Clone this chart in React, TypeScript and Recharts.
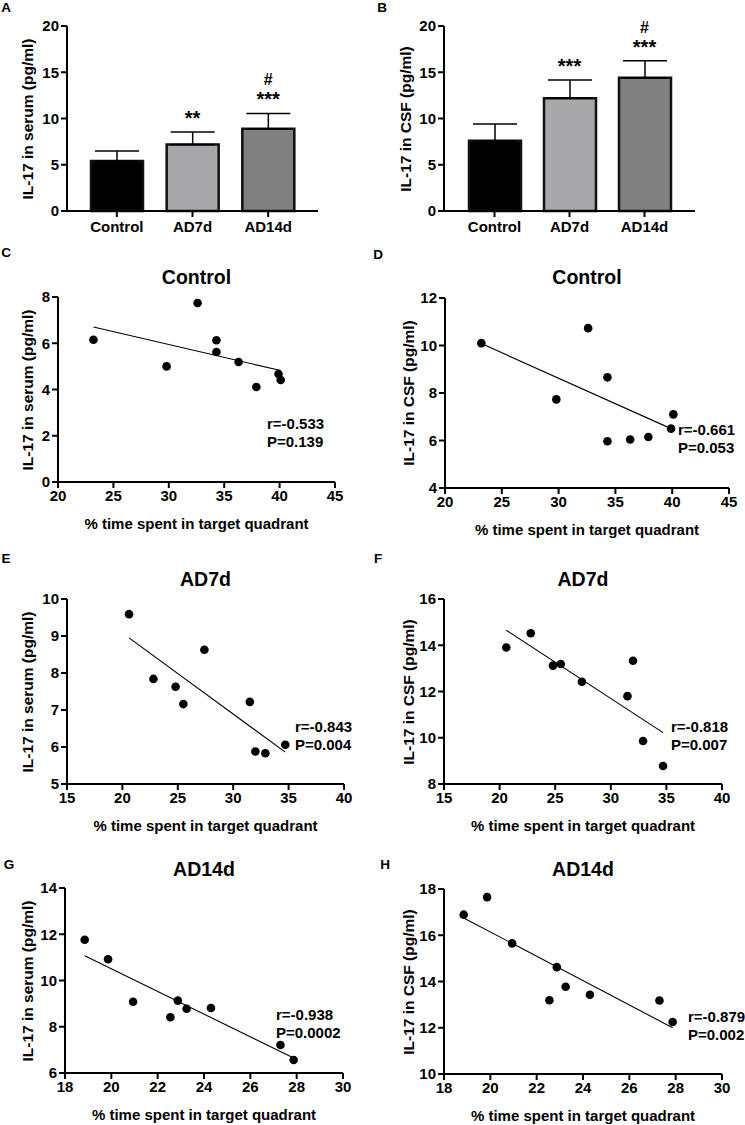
import React from "react";
import {
  Bar,
  BarChart,
  Cell,
  ErrorBar,
  ReferenceDot,
  Scatter,
  ScatterChart,
  XAxis,
  YAxis,
} from "recharts";

// bar panels (A, B)
const groups = ["Control", "AD7d", "AD14d"];
const barFills = ["#000000", "#a7a7a9", "#808080"];
const serumMean = [5.4, 7.2, 8.9];
const serumSd = [1.1, 1.35, 1.65];
const serumSig = ["", "**", "***"];
const serumHash = ["", "", "#"];
const csfMean = [7.6, 12.2, 14.4];
const csfSd = [1.8, 1.95, 1.85];
const csfSig = ["", "***", "***"];
const csfHash = ["", "", "#"];
const barTicks = [0, 5, 10, 15, 20];

// scatter panels: % time in target quadrant vs IL-17
const ctrlTime = [23.2, 29.8, 32.6, 34.3, 34.3, 36.3, 37.9, 39.9, 40.1];
const ctrlSerum = [6.15, 5.0, 7.74, 6.13, 5.62, 5.19, 4.11, 4.67, 4.41];
const ctrlCsf = [10.1, 7.73, 10.73, 8.66, 5.97, 6.04, 6.15, 6.5, 7.1];
const ad7Time = [20.6, 22.8, 24.8, 25.5, 27.4, 31.5, 32.0, 32.9, 34.7];
const ad7Serum = [9.59, 7.84, 7.63, 7.16, 8.63, 7.22, 5.88, 5.83, 6.06];
const ad7Csf = [13.9, 14.52, 13.12, 13.19, 12.42, 11.8, 13.33, 9.86, 8.78];
const ad14Time = [18.85, 19.86, 20.94, 22.55, 22.87, 23.25, 24.3, 27.3, 27.87];
const ad14Serum = [11.76, 10.92, 9.08, 8.41, 9.13, 8.78, 8.81, 7.21, 6.56];
const ad14Csf = [16.89, 17.65, 15.65, 13.19, 14.62, 13.77, 13.43, 13.18, 12.25];

// fitted regression line endpoints [x0, x1], [y0, y1]
const fitCtrlSerum = { x: [23.2, 40.1], y: [6.7, 4.82] };
const fitCtrlCsf = { x: [23.2, 39.9], y: [10.08, 6.5] };
const fitAd7Serum = { x: [20.6, 34.7], y: [8.95, 5.86] };
const fitAd7Csf = { x: [20.6, 34.7], y: [14.65, 10.22] };
const fitAd14Serum = { x: [18.85, 27.87], y: [11.07, 6.65] };
const fitAd14Csf = { x: [18.85, 27.87], y: [16.75, 12.0] };

const font = "'Liberation Sans', Arial, Helvetica, sans-serif";
const tickStyle = { fontSize: 15, fontWeight: 700, fill: "#000", fontFamily: font };
const axisLine = { stroke: "#000", strokeWidth: 2 };
const tickLine = { stroke: "#000", strokeWidth: 2 };

const Txt = ({ x, y, size, children, align = "center", rotate = false }: any) => (
  <div
    style={{
      position: "absolute",
      left: x,
      top: y,
      fontSize: size,
      fontWeight: 700,
      lineHeight: 1,
      whiteSpace: "nowrap",
      transform: `translate(${align === "center" ? "-50%" : "0"}, -50%)${rotate ? " rotate(-90deg)" : ""}`,
      transformOrigin: align === "center" ? "center" : "left center",
    }}
  >
    {children}
  </div>
);

const sigLabel = (stars: string, hash: string) => (props: any) => {
  const vb = props.viewBox;
  const cx = vb.x + vb.width / 2;
  const cy = vb.y;
  return (
    <g fontFamily={font} fontWeight={700} fill="#000" textAnchor="middle">
      <text x={cx} y={cy - 7} fontSize={20}>
        {stars}
      </text>
      {hash && (
        <text x={cx} y={cy - 28} fontSize={16}>
          {hash}
        </text>
      )}
    </g>
  );
};

const BarPanel = ({ box, plot, means, sds, sig, hash, yLabel, labelX, letter, letterPos, pad }: any) => {
  const data = groups.map((g, i) => ({ group: g, mean: means[i], err: [0, sds[i]] }));
  return (
    <div style={{ position: "absolute", left: box.left, top: box.top, width: box.w, height: box.h }}>
      <BarChart
        width={box.w}
        height={box.h}
        data={data}
        margin={{ top: plot.t - box.top, right: box.left + box.w - plot.r, left: 0, bottom: 0 }}
      >
        <XAxis
          dataKey="group"
          height={box.top + box.h - plot.b}
          padding={{ left: pad, right: pad }}
          tick={tickStyle}
          axisLine={axisLine}
          tickLine={tickLine}
          tickSize={6}
          tickMargin={4}
        />
        <YAxis
          width={plot.l - box.left}
          domain={[0, 20]}
          ticks={barTicks}
          tick={tickStyle}
          axisLine={axisLine}
          tickLine={tickLine}
          tickSize={6}
          tickMargin={2}
        />
        <Bar dataKey="mean" barSize={52} stroke="#111" strokeWidth={2.5} isAnimationActive={false}>
          {data.map((d, i) => (
            <Cell key={d.group} fill={barFills[i]} />
          ))}
          <ErrorBar dataKey="err" width={22} stroke="#000" strokeWidth={1.5} direction="y" />
        </Bar>
        {data.map((d, i) =>
          sig[i] ? (
            <ReferenceDot
              key={d.group}
              x={d.group}
              y={means[i] + sds[i]}
              r={0}
              stroke="none"
              fill="none"
              label={sigLabel(sig[i], hash[i])}
            />
          ) : null
        )}
      </BarChart>
      <Txt x={labelX - box.left} y={(plot.t + plot.b) / 2 - box.top} size={15.5} rotate>
        {yLabel}
      </Txt>
      <Txt x={letterPos[0] - box.left} y={letterPos[1] - box.top} size={13.5}>
        {letter}
      </Txt>
    </div>
  );
};

const dot = (p: any) => <circle cx={p.cx} cy={p.cy} r={4.3} fill="#000" />;
const noDot = () => <g />;

const ScatterPanel = ({
  box, plot, xs, ys, fit, xDomain, xTicks, yDomain, yTicks, title, titleY, yLabel, labelX,
  stats, statsPos, letter, letterPos,
}: any) => {
  const pts = xs.map((x: number, i: number) => ({ x, y: ys[i] }));
  const line = fit.x.map((x: number, i: number) => ({ x, y: fit.y[i] }));
  const cx = (plot.l + plot.r) / 2 - box.left;
  return (
    <div style={{ position: "absolute", left: box.left, top: box.top, width: box.w, height: box.h }}>
      <ScatterChart
        width={box.w}
        height={box.h}
        margin={{ top: plot.t - box.top, right: box.left + box.w - plot.r, left: 0, bottom: 0 }}
      >
        <XAxis
          type="number"
          dataKey="x"
          domain={xDomain}
          ticks={xTicks}
          height={box.top + box.h - plot.b}
          tick={tickStyle}
          axisLine={axisLine}
          tickLine={tickLine}
          tickSize={6}
          tickMargin={2}
        />
        <YAxis
          type="number"
          dataKey="y"
          domain={yDomain}
          ticks={yTicks}
          width={plot.l - box.left}
          tick={tickStyle}
          axisLine={axisLine}
          tickLine={tickLine}
          tickSize={6}
          tickMargin={2}
        />
        <Scatter data={line} line={{ stroke: "#000", strokeWidth: 1.1 }} shape={noDot} isAnimationActive={false} />
        <Scatter data={pts} shape={dot} isAnimationActive={false} />
      </ScatterChart>
      <Txt x={cx} y={titleY - box.top} size={19.5}>
        {title}
      </Txt>
      <Txt x={labelX - box.left} y={(plot.t + plot.b) / 2 - box.top} size={15.5} rotate>
        {yLabel}
      </Txt>
      <Txt x={cx} y={plot.b + 41 - box.top} size={15}>
        % time spent in target quadrant
      </Txt>
      <Txt x={statsPos[0] - box.left} y={statsPos[1] - box.top} size={15} align="left">
        {stats[0]}
      </Txt>
      <Txt x={statsPos[0] - box.left} y={statsPos[1] + 18 - box.top} size={15} align="left">
        {stats[1]}
      </Txt>
      <Txt x={letterPos[0] - box.left} y={letterPos[1] - box.top} size={13.5}>
        {letter}
      </Txt>
    </div>
  );
};

export default function App() {
  const serumLabel = "IL-17 in serum (pg/ml)";
  const csfLabel = "IL-17 in CSF (pg/ml)";
  const t20 = [20, 25, 30, 35, 40, 45];
  const t15 = [15, 20, 25, 30, 35, 40];
  const t18 = [18, 20, 22, 24, 26, 28, 30];
  return (
    <div
      style={{
        position: "absolute",
        left: 0,
        top: 0,
        width: 745,
        height: 1125,
        background: "#fff",
        fontFamily: font,
        color: "#000",
      }}
    >
      <BarPanel
        box={{ left: 0, top: 0, w: 372, h: 240 }}
        plot={{ l: 67, t: 26, r: 318, b: 211 }}
        pad={12}
        means={serumMean}
        sds={serumSd}
        sig={serumSig}
        hash={serumHash}
        yLabel={serumLabel}
        labelX={28}
        letter="A"
        letterPos={[6, 8]}
      />
      <BarPanel
        box={{ left: 372, top: 0, w: 373, h: 240 }}
        plot={{ l: 444, t: 26, r: 695, b: 211 }}
        pad={13}
        means={csfMean}
        sds={csfSd}
        sig={csfSig}
        hash={csfHash}
        yLabel={csfLabel}
        labelX={406}
        letter="B"
        letterPos={[382, 8]}
      />
      <ScatterPanel
        box={{ left: 0, top: 240, w: 372, h: 300 }}
        plot={{ l: 58, t: 297, r: 335, b: 482 }}
        xs={ctrlTime}
        ys={ctrlSerum}
        fit={fitCtrlSerum}
        xDomain={[20, 45]}
        xTicks={t20}
        yDomain={[0, 8]}
        yTicks={[0, 2, 4, 6, 8]}
        title="Control"
        titleY={278}
        yLabel={serumLabel}
        labelX={28}
        stats={["r=-0.533", "P=0.139"]}
        statsPos={[267, 423]}
        letter="C"
        letterPos={[6, 253]}
      />
      <ScatterPanel
        box={{ left: 372, top: 240, w: 373, h: 300 }}
        plot={{ l: 445, t: 298, r: 729, b: 488 }}
        xs={ctrlTime}
        ys={ctrlCsf}
        fit={fitCtrlCsf}
        xDomain={[20, 45]}
        xTicks={t20}
        yDomain={[4, 12]}
        yTicks={[4, 6, 8, 10, 12]}
        title="Control"
        titleY={278}
        yLabel={csfLabel}
        labelX={409}
        stats={["r=-0.661", "P=0.053"]}
        statsPos={[678, 429]}
        letter="D"
        letterPos={[378, 255]}
      />
      <ScatterPanel
        box={{ left: 0, top: 540, w: 372, h: 290 }}
        plot={{ l: 67, t: 599, r: 344, b: 784 }}
        xs={ad7Time}
        ys={ad7Serum}
        fit={fitAd7Serum}
        xDomain={[15, 40]}
        xTicks={t15}
        yDomain={[5, 10]}
        yTicks={[5, 6, 7, 8, 9, 10]}
        title="AD7d"
        titleY={580}
        yLabel={serumLabel}
        labelX={28}
        stats={["r=-0.843", "P=0.004"]}
        statsPos={[295, 726]}
        letter="E"
        letterPos={[6, 559]}
      />
      <ScatterPanel
        box={{ left: 372, top: 540, w: 373, h: 290 }}
        plot={{ l: 444, t: 599, r: 722, b: 784 }}
        xs={ad7Time}
        ys={ad7Csf}
        fit={fitAd7Csf}
        xDomain={[15, 40]}
        xTicks={t15}
        yDomain={[8, 16]}
        yTicks={[8, 10, 12, 14, 16]}
        title="AD7d"
        titleY={580}
        yLabel={csfLabel}
        labelX={409}
        stats={["r=-0.818", "P=0.007"]}
        statsPos={[671, 726]}
        letter="F"
        letterPos={[378, 559]}
      />
      <ScatterPanel
        box={{ left: 0, top: 830, w: 372, h: 295 }}
        plot={{ l: 65, t: 888, r: 343, b: 1073 }}
        xs={ad14Time}
        ys={ad14Serum}
        fit={fitAd14Serum}
        xDomain={[18, 30]}
        xTicks={t18}
        yDomain={[6, 14]}
        yTicks={[6, 8, 10, 12, 14]}
        title="AD14d"
        titleY={870}
        yLabel={serumLabel}
        labelX={28}
        stats={["r=-0.938", "P=0.0002"]}
        statsPos={[276, 1014]}
        letter="G"
        letterPos={[9, 865]}
      />
      <ScatterPanel
        box={{ left: 372, top: 830, w: 373, h: 295 }}
        plot={{ l: 444, t: 889, r: 722, b: 1074 }}
        xs={ad14Time}
        ys={ad14Csf}
        fit={fitAd14Csf}
        xDomain={[18, 30]}
        xTicks={t18}
        yDomain={[10, 18]}
        yTicks={[10, 12, 14, 16, 18]}
        title="AD14d"
        titleY={870}
        yLabel={csfLabel}
        labelX={409}
        stats={["r=-0.879", "P=0.002"]}
        statsPos={[688, 1016]}
        letter="H"
        letterPos={[385, 865]}
      />
    </div>
  );
}
